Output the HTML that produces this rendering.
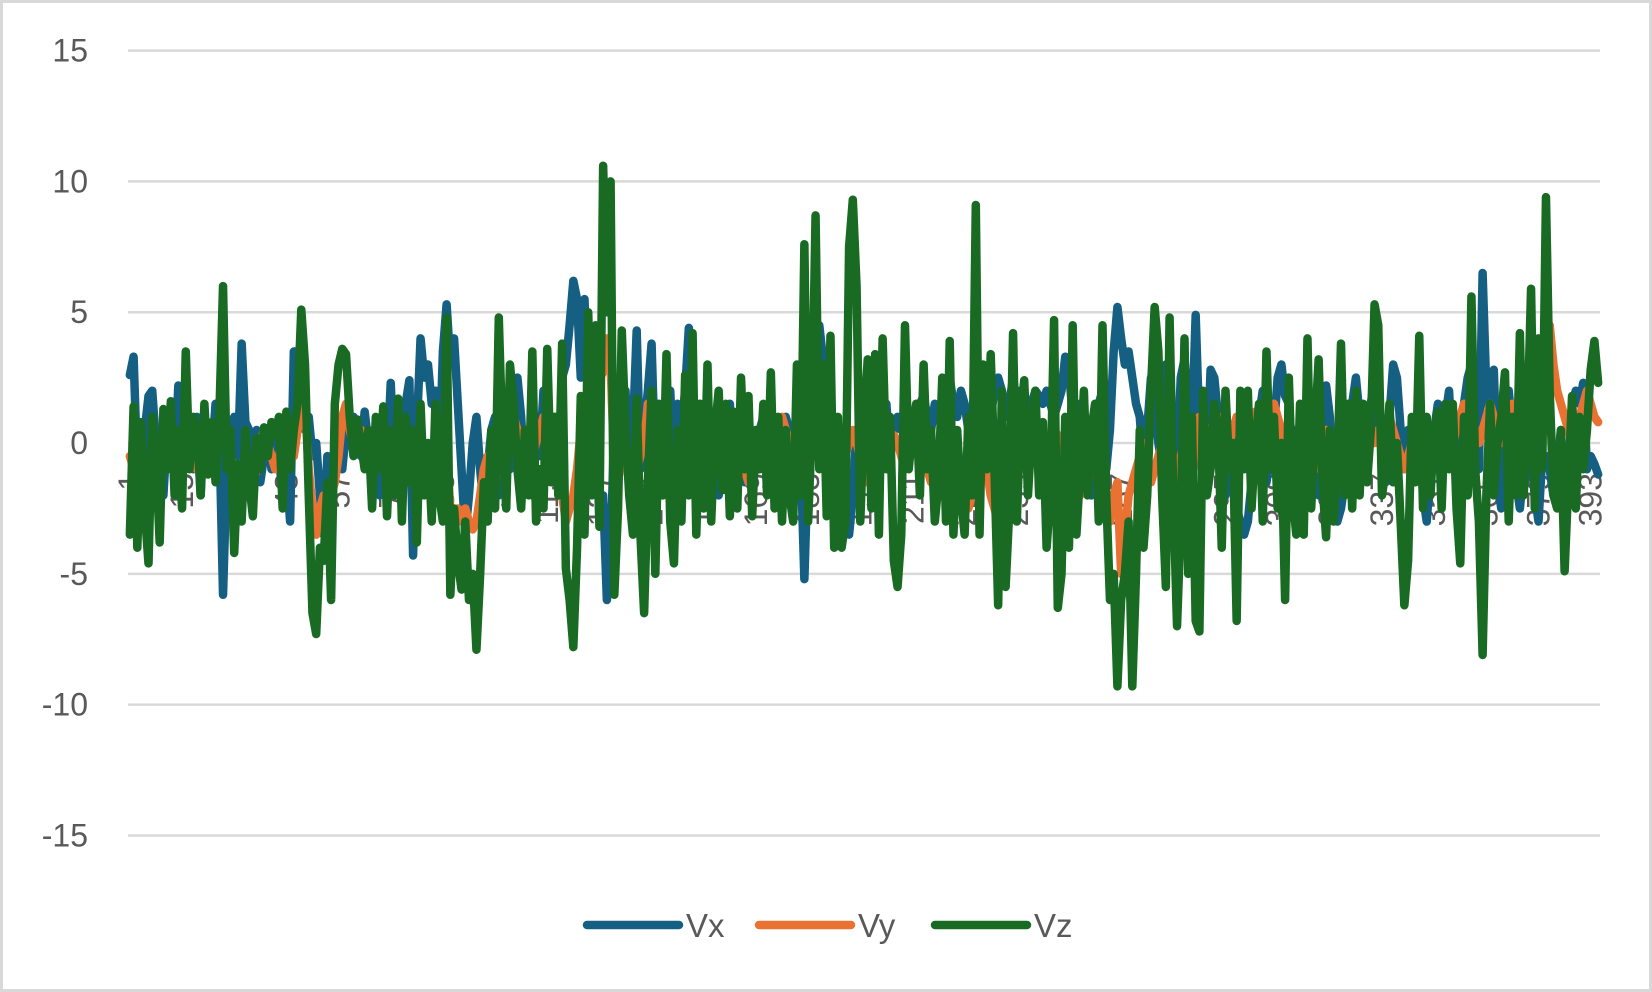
<!DOCTYPE html>
<html><head><meta charset="utf-8"><style>
html,body{margin:0;padding:0;background:#fff}
svg{display:block;font-family:"Liberation Sans",Arial,sans-serif}
</style></head><body>
<svg id="chart" width="1652" height="992" viewBox="0 0 1652 992">
<rect x="1.5" y="1.5" width="1649" height="989" fill="#fff" stroke="#d9d9d9" stroke-width="3"/>
<g id="grid"></g><g id="ylabels"></g><g id="xlabels"></g><g id="series"></g><g id="legend"></g>
</svg>
<script>
const yTicks=[15,10,5,0,-5,-10,-15];
const seriesNames=["Vx","Vy","Vz"];
const seriesColors=["#156082","#e97132","#196b24"];
const vx=[2.6,3.3,-1,-3,0.5,1.8,2,0,-0.5,-2,0.5,1,-1,2.2,-1.5,0.2,0.5,-1,1,-2,1,0.5,-0.5,1.5,0.5,-5.8,-1,0.5,1,-0.5,3.8,0.8,0.5,-1,0.5,-1.5,-0.5,0.5,-1,0.3,-0.5,-2,-1,-3,3.5,3.5,1.5,0.5,1,-0.5,0,-2,-3.5,-0.5,-1,-0.5,0,-1,0.5,1,1,0.5,-0.5,1.2,0,-1.5,0.5,-2,1,-1,2.3,-1,0.5,-2.5,1.5,2.4,-4.3,0.5,4,2.5,3,1.5,2,-1,3.5,5.3,3,4,1.5,-1,-3.5,-2,0,1,-1,-2.5,-1,0.5,1,-2,0.5,1.5,-1,0.5,2.5,1,-1.5,0.5,-2,1,-0.5,2,-1,0.5,1,-2,2.5,3,4.5,6.2,5.5,2.5,5.5,1.5,-0.5,1,-3,-2,-6,-4.5,1,-1,0.5,2,-1.5,0.5,4.3,-1,0.5,2,3.8,-1,1,-2,0.5,2,-1,1.5,0.5,2,4.4,0.5,-2,0.5,-1.5,0.5,-0.5,1,-2,-1,0.5,1.5,-1,-2,0.5,-1.5,1,-0.5,-1,0.5,1,-1.5,-1,0.5,-0.5,-1,1,0.5,-1.5,-0.5,-0.5,-5.2,-0.5,-0.5,2.5,4.5,3.2,1,-1,-0.5,-2.5,0.5,-1,-3.5,-2,0.5,-1,0.5,1,-0.5,0.5,-1,0.5,1.5,-0.5,0.5,1,0.5,0.8,1,0.5,1.2,1.5,1.8,1,0.5,1.5,1,0.5,1.5,2.5,1.5,1,2,1.5,0.5,1,2,2.5,1.8,1.5,1,2,2.5,2,1,1.5,2.5,1.5,2,2,1,1.5,2,1.8,1.5,2,1.5,1,1.5,2,3.3,2.8,1,0.5,1.5,0.5,-1.5,-2,0.5,1.5,2,-1,0.5,3.5,5.2,4,3,3.5,2.5,1.5,1,-1,0.5,2.5,1.5,0,-1,3,2,0.5,-1,2.5,3.2,1.5,0.5,4.9,0.5,-2,-1,2.8,2.5,1,-1.5,-2,-1,0.5,-2.5,-3,-3.5,-3,-1.5,0.5,1,2,-1.5,-0.5,0.5,2.5,3,1.8,1.5,-0.5,0.5,-1,1,0.5,-1.5,0.5,-2,0.5,2.2,1,-2.5,-3,-2.5,-1.5,0.5,1.5,2.5,1,-1,0.5,1.5,2.5,1,-0.5,-1.5,1,3,2.5,0.5,-1,0.5,-1.5,0.5,1,-2,-3,-1,0.5,1.5,-0.5,1,2,-1,0.5,-1.5,1.5,2.5,3,1,-1,6.5,2,1,2.8,-1.5,-2.5,1,2,0.5,-1.5,-2.5,-1,0.5,-0.5,-2,-3,-0.5,-0.5,-1,-2,-1,0.5,-3.4,-1,1.5,2,1.5,2.3,-1,-0.5,-0.8,-1.2];
const vy=[-0.5,-1,-1.5,-2,-1.5,-1,-1.5,-2.5,-1,-0.5,0,0.5,-0.5,-1,-0.5,0,0.5,-0.5,-1,0,0,-0.5,-1,-0.5,0.3,0.5,0,-0.5,-1,-1.5,-1,-0.5,-1,-1.5,-1,0,0.5,0,-0.5,-1,-0.5,0,0.5,0,-0.5,0.5,1,1.5,-1,-2.5,-3.5,-2.5,-2,-2.5,-2,-1.5,-0.5,1,1.5,0.5,0,0.5,0.5,0,-0.5,0,0.5,0,-1,-0.5,0,-0.5,-1,-1.5,-0.5,0,-0.5,-1,-1.5,-1,-0.5,-1,-1.5,-1.5,-2,-0.5,-2.5,-3,-2.5,-3,-2.5,-3,-3.3,-3,-2,-1,-0.5,-1,-1.5,-0.5,0,0.5,0.5,1,0.5,0,-0.5,-1,-0.5,0,0.5,1,0.5,0,-0.5,-1,-2,-3,-2.5,-2,-1,0.5,-0.5,0.5,1,2,2.5,2.7,4,3,-1,-1.5,-0.5,0,-1,-1.5,-1,-0.5,0,1.5,1.5,1,-0.5,-1,-0.5,-0.5,-1,-1.5,-1,0,0.5,0,-0.5,-1,-1.5,-1,-0.5,0,0.5,0,0,0.5,-0.5,-1,-0.5,-1,-1.5,-1,-0.5,0,0.5,0,-0.5,0,0.5,1,0.5,0,-1,-0.5,0,0.5,2,1.5,0,-0.5,-1,-0.5,0,-1,-1.5,-1,-0.5,0,0.5,0,-0.5,-1,-1.5,-0.5,0,-0.5,-1,-0.5,0,0.3,0,-0.5,-1,-0.5,0,0.3,0,-0.5,-1,-1.5,-1,-0.5,0,0.5,0,-0.5,-1,-1.5,-2,-2.5,-2,-1.5,-1,-0.5,-1,-2,-2.5,-3,-2,-1.5,-1,-0.5,0,-0.5,-1,-0.5,0,0.5,0,-0.5,-0.5,0,0.5,0.3,0,-0.5,-1,-1.5,-1,-2,-1.5,-1,-0.5,-1,-1.5,-2,-2.5,-3,-2,-1.5,-5,-3.5,-2,-1.5,-1,-0.5,0,-1,-1.5,-1,-0.5,0,-0.5,-1,-1.5,-1,-0.5,0,-1,-1.5,0.5,1,0.8,0.5,0,0.5,1,0.8,0.5,0,0.5,1,1,0.5,0.5,1,1.2,1,0.5,0.5,0.8,1.5,1,0.5,-1,-0.5,0,-0.5,-1,-1.5,-1,-0.5,-1,-0.5,0,0.5,0.3,0,-0.5,0,0.5,1,0.5,0.3,0.5,1,1.2,0.5,0,0.5,0.3,0.5,1,0.5,0,-0.5,-1,-0.5,0,0.5,0,-0.5,0,0.5,0.5,1,0.5,0,-0.5,0,0.5,1,1.5,1,1,0.5,0,0.5,1,1.5,1,0.5,0,0.5,1,1.5,1,0.5,1,1.5,2,1.5,1,2.5,3,4.5,3,2,1.5,1,0.5,0,0.5,1,1.5,2,1.5,1,0.8];
const vz=[-3.5,1.4,-4,0.8,-2.6,-4.6,1,-0.5,-3.8,1.3,-1,1.6,-2,0.5,-2.5,3.5,-1,1,0.5,-2,1.5,-1.2,0.8,-1.5,1,6,-1,0.5,-4.2,-0.8,-3,0.5,-1.5,-2.8,0.2,-1,0.6,-0.5,0.8,0.3,1,-2.5,1.2,-1,0.5,1.5,5.1,3,-2,-6.5,-7.3,-4,-4.5,-1.5,-6,1.5,3,3.6,3.4,1,-0.5,0.9,0,-1,0.5,-2.5,1,-1,1.4,-2.8,0.5,-2,1.7,-3,1,-1.5,0.5,-3.8,1.5,-2,0,-3,1.5,-2,-3,4.8,-5.8,-2.5,-4.5,-5.6,-3,-6,-5,-7.9,-5,-1.5,-3,0.5,-2.5,4.8,0,-2.5,3,1.5,-1,-2.5,0.5,-2,3.5,-3,-1,-2.5,3.6,-1.5,1,-2,3.8,-4.8,-6,-7.8,-4,1.8,-3.5,5,-2,4.5,-3.2,10.6,5,10,-5.8,-2.5,4.3,0.5,-2,-3.5,1.7,-3.5,-6.5,-1.5,2,-5,1.5,-2,3.4,-3,-4.6,0.5,-3,2.6,-2,4.2,-3.5,1.5,-2.5,3,-3,0.5,2,-1.8,1.5,-2.8,1.2,-2.5,2.5,-1,1.8,-2.8,0.5,-1,1.5,-2,2.7,-2.5,1,-3,0.5,-2,-3,3,-2,7.6,-3,0.5,8.7,-1,3,-2.8,4.1,-4,1,-4,-3,7.5,9.3,6,-3,1,3.2,-2.5,3.4,-3.5,4,-1,1,-4.5,-5.5,-3.5,4.5,-1,0.5,1.5,-2,3,-1,0.5,-3,-1.5,2.5,-3,3.9,-3.5,0.5,-2,-3.5,1,-2,9.1,-3.5,3,-1,3.4,-1,-6.2,2,-5.5,-2.5,4.2,-3,1,2.4,-2,0.5,2,-2,0.8,-4,-2,4.7,-6.3,-5,1,-4,4.5,-3.5,-1,2,-2,0.5,1.5,-3,4.5,-2,-6,-5,-9.3,-6,-5,-3,-9.3,-5,0.5,-4,-2,2,5.2,3.5,-2,-5.5,4.8,-2,-7,-3,4,-5,1,-6.8,-7.2,2,-2,-1,1.5,0.5,-4,2,-1,0,-6.8,2,-1,2,-2.5,0,1.5,-3,3.5,-1,1,-2.5,0,-6,2.5,-2,-3.5,1.5,-3.5,4,-2.5,0.5,3.2,-1.5,-3.6,0.5,-3,-1,3.8,-2,1.5,-2.5,2,-2,1.5,-1.5,0.5,5.3,4.5,-2,-1,1.5,-1.5,0,-3,-6.2,-4.5,1,-1.5,4.1,-2.5,1,-2,0.5,1.2,-2.5,1.5,-1,1.5,-2.5,-4.6,1,-2,5.6,-1,-3,-8.1,-2,1.5,-2,0,1,2.7,-3,1,-2,4.2,-2,0.5,5.9,-2.5,4,-1,9.4,2,-2,-2.5,0.5,-4.9,-1.5,1.8,-2.5,1,-1,0.5,2.8,3.9,2.3];
const allSeries=[vx,vy,vz];
const N=vz.length;
const labelStep=14;

const NS="http://www.w3.org/2000/svg";
const X0=128,X1=1600,Y15=50.6,Ym15=835.5;
const yScale=v=>Y15+(15-v)*(Ym15-Y15)/30;
const xScale=i=>X0+(i+0.5)*(X1-X0)/N;
function mk(tag,attrs,parent){const e=document.createElementNS(NS,tag);for(const k in attrs)e.setAttribute(k,attrs[k]);parent.appendChild(e);return e;}

const grid=document.getElementById('grid'),yl=document.getElementById('ylabels');
yTicks.forEach(t=>{
  const y=yScale(t);
  const l=mk('line',{x1:X0,x2:X1,y1:y,y2:y,stroke:'#d9d9d9','stroke-width':2.5},grid);
  
  
  const tx=mk('text',{x:88,y:y+11,'text-anchor':'end','font-size':32,fill:'#595959'},yl);
  tx.textContent=t;
  
  
});
const xl=document.getElementById('xlabels');
for(let i=0;i<N;i+=labelStep){
  const x=xScale(i)+11,y=473;
  const tx=mk('text',{x:x,y:y,'text-anchor':'end','font-size':32,fill:'#595959',transform:`rotate(-90 ${x} ${y})`},xl);
  tx.textContent=String(i+1);
  
  
}
const sg=document.getElementById('series');
allSeries.forEach((s,k)=>{
  const d=s.map((v,i)=>(i?'L':'M')+xScale(i).toFixed(2)+' '+yScale(v).toFixed(2)).join(' ');
  const p=mk('path',{d:d,fill:'none',stroke:seriesColors[k],'stroke-width':8.5,'stroke-linejoin':'round','stroke-linecap':'round'},sg);
  
  
});
const lg=document.getElementById('legend');
const lx=[587,759,935];
seriesNames.forEach((n,k)=>{
  const g=mk('g',{},lg);
  
  
  mk('line',{x1:lx[k],x2:lx[k]+92,y1:925,y2:925,stroke:seriesColors[k],'stroke-width':8.5,'stroke-linecap':'round'},g);
  const t=mk('text',{x:lx[k]+99,y:937,'font-size':33,fill:'#595959'},g);
  t.textContent=n;
});
</script>
</body></html>
